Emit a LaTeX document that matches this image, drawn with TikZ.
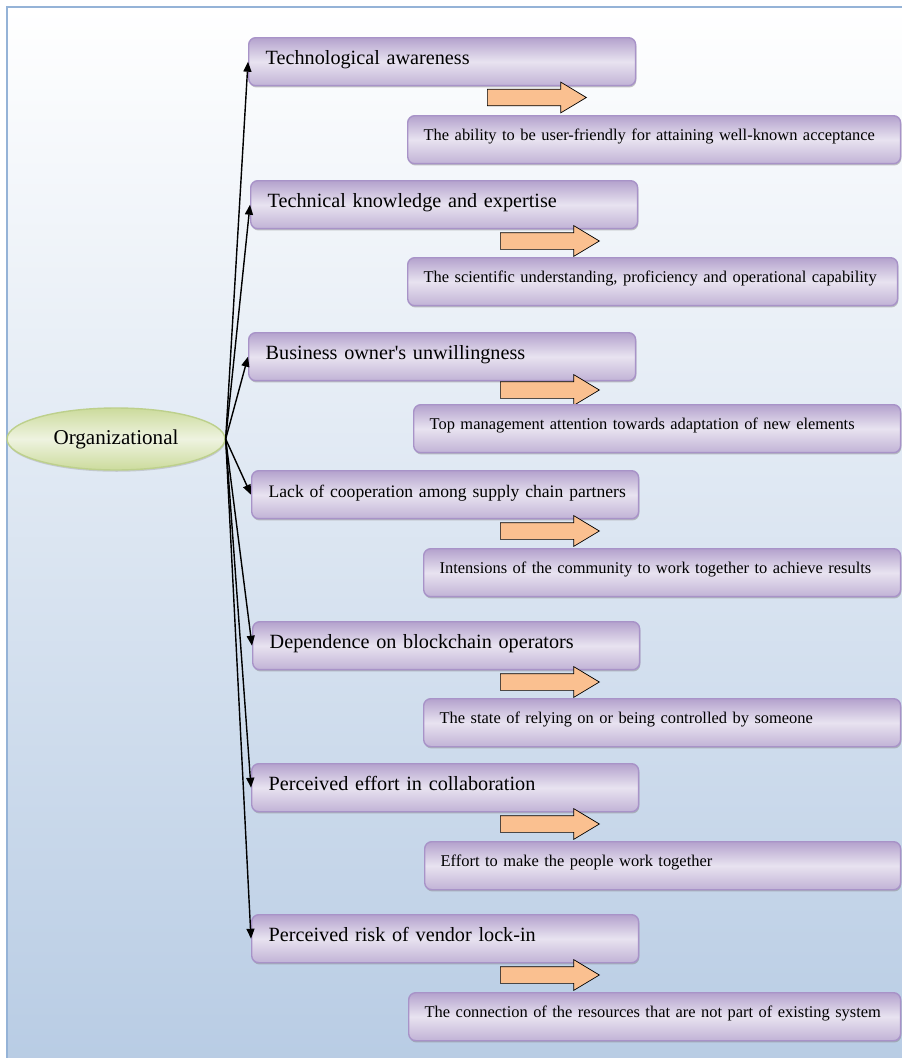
\documentclass[tikz,border=0pt]{standalone}
\usepackage{fontspec}
\setmainfont{Liberation Serif}
\usetikzlibrary{shapes.geometric,shapes.arrows,arrows.meta,shadows}

\definecolor{framecol}{HTML}{95B3D7}
\definecolor{bgblue}{HTML}{B8CCE4}
\definecolor{boxdark}{HTML}{B4A2CD}
\definecolor{boxlight}{HTML}{E8E3F0}
\definecolor{boxline}{HTML}{A893C8}
\definecolor{leafdark}{HTML}{CCDB9C}
\definecolor{leaflight}{HTML}{EEF3E0}
\definecolor{leafline}{HTML}{BDD08C}
\definecolor{arrowfill}{HTML}{FAC090}

\tikzset{
  boxbase/.style={rectangle, rounded corners=4pt, draw=boxline, thick,
    top color=boxdark, bottom color=boxdark!75!boxlight, middle color=boxlight,
    drop shadow={shadow xshift=0.4pt, shadow yshift=-1pt, fill=black!50, opacity=0.45},
    inner ysep=0pt, align=left, anchor=north west,
    execute at begin node={\hbox to\linewidth\bgroup},
    execute at end node={\hss\egroup}},
  factor/.style={boxbase, inner xsep=0.34cm, text width=7.06cm,
    text height=0.54cm, text depth=0.42cm, font=\fontsize{11.5}{13}\selectfont},
  detail/.style={boxbase, inner xsep=0.32cm, text width=#1,
    text height=0.5cm, text depth=0.46cm, font=\fontsize{9.35}{11}\selectfont},
  blockarrow/.style={single arrow, draw=black, fill=arrowfill, anchor=tail,
    minimum height=1.98cm, minimum width=0.6cm, inner xsep=0pt, inner ysep=0.16cm,
    single arrow head extend=0.14cm, single arrow tip angle=62,
    single arrow head indent=0pt}
}

\begin{document}
\begin{tikzpicture}[x=0.02cm, y=-0.02cm, >={Triangle[length=0.2cm,width=0.16cm]}]
		\useasboundingbox (0,0) rectangle (902,1058);
		\shade[top color=white, bottom color=bgblue] (7,7) rectangle (910,1066);
		\draw[framecol, line width=1pt] (7,1066) -- (7,7) -- (910,7);
		
		\node[ellipse, draw=leafline, thick, top color=leafdark, bottom color=leafdark, middle color=leaflight,
			drop shadow={shadow xshift=0.3pt, shadow yshift=-1pt, fill=black!40, opacity=0.4},
			minimum width=4.36cm, minimum height=1.24cm, inner sep=0pt, font=\fontsize{12}{14}\selectfont]
			(org) at (116, 439) {Organizational};
		
		\node[factor] 			(f-1) at (248, 37)  {Technological awareness};
		\node[blockarrow] 		(a-1) at (487, 97.5) {};
		\node[detail=9.22cm] 	(d-1) at (407, 115) {The ability to be user-friendly for attaining well-known acceptance};
		
		\node[factor] 			(f-2) at (250, 180) {Technical knowledge and expertise};
		\node[blockarrow] 		(a-2) at (500, 241) {};
		\node[detail=9.16cm] 	(d-2) at (407, 257) {The scientific understanding, proficiency and operational capability};
		
		\node[factor] 			(f-3) at (248, 332) {Business owner\textquotesingle s unwillingness};
		\node[blockarrow] 		(a-3) at (500, 390) {};
		\node[detail=9.10cm] 	(d-3) at (413, 404) {Top management attention towards adaptation of new elements};
		
		\node[factor, font=\fontsize{10}{12}\selectfont] 
								(f-4) at (251, 470) {Lack of cooperation among supply chain partners};
		\node[blockarrow] 		(a-4) at (500, 531) {};
		\node[detail=8.90cm] 	(d-4) at (423, 548) {Intensions of the community to work together to achieve results};
		
		\node[factor] 			(f-5) at (252, 621) {Dependence on blockchain operators};
		\node[blockarrow] 		(a-5) at (500, 682) {};
		\node[detail=8.90cm] 	(d-5) at (423, 698) {The state of relying on or being controlled by someone};
		
		\node[factor] 			(f-6) at (251, 763) {Perceived effort in collaboration};
		\node[blockarrow] 		(a-6) at (500, 824) {};
		\node[detail=8.88cm] 	(d-6) at (424, 841) {Effort to make the people work together};
		
		\node[factor] 			(f-7) at (251, 914) {Perceived risk of vendor lock-in};
		\node[blockarrow] 		(a-7) at (500, 975) {};
		\node[detail=9.20cm] 	(d-7) at (408, 992) {The connection of the resources that are not part of existing system};
		
		
		\path [->, line width=0.8pt] (org.east) edge (f-1.west);
		\path [->, line width=0.8pt] (org.east) edge (f-2.west);
		\path [->, line width=0.8pt] (org.east) edge (f-3.west);
		\path [->, line width=0.8pt] (org.east) edge (f-4.west);
		\path [->, line width=0.8pt] (org.east) edge (f-5.west);
		\path [->, line width=0.8pt] (org.east) edge (f-6.west);
		\path [->, line width=0.8pt] (org.east) edge (f-7.west);
		
\end{tikzpicture}
\end{document}
